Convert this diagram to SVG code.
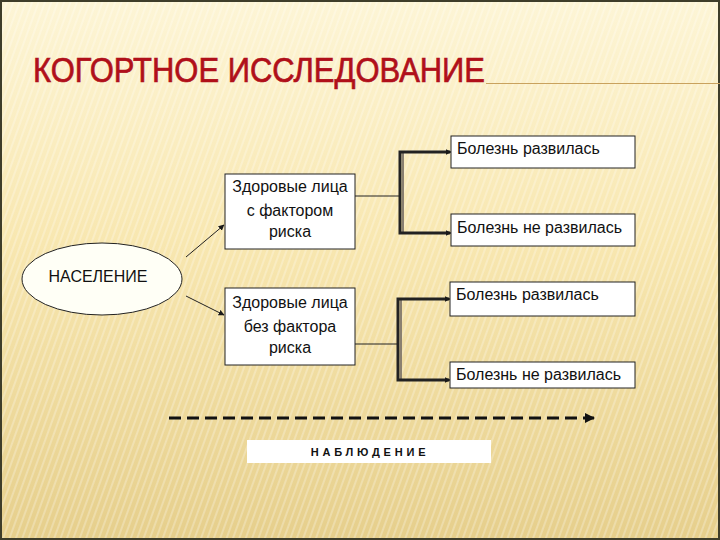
<svg xmlns="http://www.w3.org/2000/svg" width="720" height="540" viewBox="0 0 720 540">
<defs>
<linearGradient id="bg" x1="0" y1="0" x2="0" y2="1">
<stop offset="0" stop-color="#fdf5d6"/>
<stop offset="0.45" stop-color="#f8e7b0"/>
<stop offset="1" stop-color="#e6cf8c"/>
</linearGradient>
<pattern id="stripes" width="6" height="6" patternUnits="userSpaceOnUse" patternTransform="rotate(20)">
<rect width="2" height="6" fill="#ffffff" opacity="0.25"/>
</pattern>
<marker id="arr" viewBox="0 0 10 10" refX="9" refY="5" markerWidth="6" markerHeight="6" markerUnits="userSpaceOnUse" orient="auto">
<path d="M0,0 L10,5 L0,10 z" fill="#1a1a1a"/>
</marker>
<marker id="arrBig" viewBox="0 0 10 10" refX="9" refY="5" markerWidth="10" markerHeight="10" markerUnits="userSpaceOnUse" orient="auto">
<path d="M0,0 L10,5 L0,10 z" fill="#111"/>
</marker>
<style>
.box{fill:#ffffff;stroke:#222;stroke-width:1}
.t{font-family:"Liberation Sans",Arial,sans-serif;font-size:16px;fill:#111}
.c{text-anchor:middle}
.ln{stroke:#222;stroke-width:1;fill:none}
.br{stroke:#222;stroke-width:3;fill:none}
.sh{stroke:#8a8070;stroke-width:2;fill:none}
</style>
</defs>
<rect width="720" height="540" fill="url(#bg)"/>
<rect width="720" height="540" fill="url(#stripes)"/>
<rect x="1" y="1" width="718" height="538" fill="none" stroke="#3e3d2a" stroke-width="2"/>
<g id="title">
<text x="33" y="82" font-family="'Liberation Sans Narrow','Liberation Sans',Arial,sans-serif" font-size="35" fill="#b0101a" stroke="#b0101a" stroke-width="0.7" textLength="452" lengthAdjust="spacingAndGlyphs">КОГОРТНОЕ ИССЛЕДОВАНИЕ</text>
<line x1="486" y1="83.5" x2="720" y2="83.5" stroke="#c9a25e" stroke-width="1"/>
</g>
<g id="connectors">
<line class="ln" x1="186" y1="257" x2="224" y2="225" marker-end="url(#arr)"/>
<line class="ln" x1="186" y1="296" x2="224" y2="315" marker-end="url(#arr)"/>
<line class="ln" x1="355" y1="196" x2="400" y2="196"/>
<line class="sh" x1="403" y1="153" x2="403" y2="232"/>
<polyline class="br" points="450,152 400,152 400,233 450,233" stroke-width="2.5"/>
<line class="ln" x1="400" y1="152" x2="451" y2="152" marker-end="url(#arr)"/>
<line class="ln" x1="400" y1="233" x2="451" y2="233" marker-end="url(#arr)"/>
<line class="ln" x1="355" y1="344" x2="398" y2="344"/>
<line class="sh" x1="401" y1="300" x2="401" y2="379"/>
<polyline class="br" points="449,299 398,299 398,380 449,380" stroke-width="2.5"/>
<line class="ln" x1="398" y1="299" x2="450" y2="299" marker-end="url(#arr)"/>
<line class="ln" x1="398" y1="380" x2="450" y2="380" marker-end="url(#arr)"/>
<line x1="169" y1="418" x2="594" y2="418" stroke="#111" stroke-width="3" stroke-dasharray="12,6" marker-end="url(#arrBig)"/>
</g>
<g id="population">
<ellipse cx="102" cy="279" rx="80" ry="36" fill="#fffff6" stroke="#222" stroke-width="1"/>
<text class="t c" x="98" y="282">НАСЕЛЕНИЕ</text>
</g>
<g id="with-risk">
<rect class="box" x="225" y="174" width="130" height="75"/>
<text class="t c" x="290" y="192">Здоровые лица</text>
<text class="t c" x="290" y="216">с фактором</text>
<text class="t c" x="290" y="237">риска</text>
</g>
<g id="without-risk">
<rect class="box" x="225" y="288" width="130" height="77"/>
<text class="t c" x="290" y="308">Здоровые лица</text>
<text class="t c" x="290" y="332">без фактора</text>
<text class="t c" x="290" y="353">риска</text>
</g>
<g id="r1">
<rect class="box" x="451" y="136" width="184" height="32"/>
<text class="t" x="457" y="154">Болезнь развилась</text>
</g>
<g id="r2">
<rect class="box" x="451" y="214" width="184" height="32"/>
<text class="t" x="457" y="233">Болезнь не развилась</text>
</g>
<g id="r3">
<rect class="box" x="450" y="282" width="185" height="34"/>
<text class="t" x="456" y="300">Болезнь развилась</text>
</g>
<g id="r4">
<rect class="box" x="450" y="362" width="185" height="26"/>
<text class="t" x="456" y="380">Болезнь не развилась</text>
</g>
<g id="observation">
<rect x="247" y="440" width="244" height="23" fill="#ffffff"/>
<text x="370" y="456" text-anchor="middle" font-family="'Liberation Sans',Arial,sans-serif" font-size="11" font-weight="bold" letter-spacing="3.8" fill="#111">НАБЛЮДЕНИЕ</text>
</g>
</svg>
